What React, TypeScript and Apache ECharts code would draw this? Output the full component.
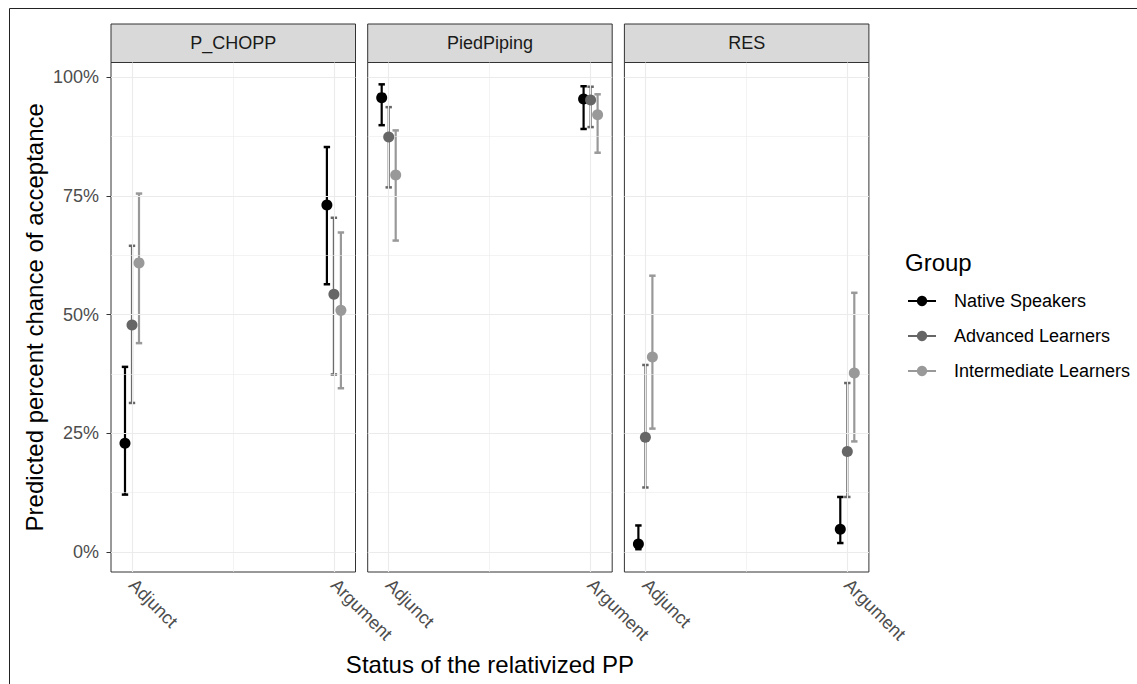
import React, { useEffect, useRef } from 'react';
import * as echarts from 'echarts';

const panels = ['P_CHOPP', 'PiedPiping', 'RES'];
const statuses = ['Adjunct', 'Argument'];
const groups = ['Native Speakers', 'Advanced Learners', 'Intermediate Learners'];
const yTicks = [0, 25, 50, 75, 100];

// Order of values: P_CHOPP Adjunct, P_CHOPP Argument, PiedPiping Adjunct, PiedPiping Argument, RES Adjunct, RES Argument
const nativeEstimate = [22.9, 73.1, 95.7, 95.4, 1.7, 4.8];
const nativeLower = [12.1, 56.4, 89.9, 89.1, 0.6, 1.9];
const nativeUpper = [39.0, 85.3, 98.5, 98.1, 5.6, 11.6];

const advancedEstimate = [47.8, 54.3, 87.4, 95.2, 24.2, 21.2];
const advancedLower = [31.4, 37.4, 76.8, 89.5, 13.6, 11.6];
const advancedUpper = [64.5, 70.4, 93.7, 98.0, 39.4, 35.6];

const intermediateEstimate = [60.9, 50.9, 79.4, 92.1, 41.1, 37.7];
const intermediateLower = [44.0, 34.5, 65.6, 84.1, 26.0, 23.3];
const intermediateUpper = [75.5, 67.3, 88.8, 96.4, 58.2, 54.6];

const estimates = [nativeEstimate, advancedEstimate, intermediateEstimate];
const lowers = [nativeLower, advancedLower, intermediateLower];
const uppers = [nativeUpper, advancedUpper, intermediateUpper];

// styling / layout
const groupColors = ['#000000', '#666666', '#999999'];
const dodge = [-0.0347, 0, 0.0347];
const FONT = '"Liberation Sans", Arial, Helvetica, sans-serif';
const gridLefts = [111, 367.7, 624.4];
const gridWidth = 244.5;
const gridTop = 62.5;
const gridHeight = 509.5;

export default function App() {
  const ref = useRef<HTMLDivElement>(null);

  useEffect(() => {
    if (!ref.current) return;
    const chart = echarts.init(ref.current, undefined, { renderer: 'svg' });

    const grids = panels.map((_, p) => ({
      left: gridLefts[p],
      top: gridTop,
      width: gridWidth,
      height: gridHeight,
      show: true,
      backgroundColor: '#ffffff',
      borderColor: '#333333',
      borderWidth: 1,
    }));

    const xAxes = panels.map((_, p) => ({
      type: 'value',
      gridIndex: p,
      min: 0.896,
      max: 2.107,
      axisLine: { show: false },
      splitLine: { show: false },
      axisTick: {
        show: true,
        customValues: [1, 2],
        length: 4.5,
        lineStyle: { color: '#333333', width: 1 },
      },
      axisLabel: {
        customValues: [1, 2],
        formatter: (v: number) => statuses[Math.round(v) - 1] ?? '',
        rotate: -45,
        margin: 10,
        color: '#4d4d4d',
        fontSize: 18,
        fontFamily: FONT,
      },
      name: p === 1 ? 'Status of the relativized PP' : '',
      nameLocation: 'middle',
      nameGap: 80,
      nameTextStyle: { color: '#000000', fontSize: 24, fontFamily: FONT },
    }));

    const yAxes = panels.map((_, p) => ({
      type: 'value',
      gridIndex: p,
      min: -4.2,
      max: 103.1,
      axisLine: { show: false },
      splitLine: { show: false },
      axisTick: {
        show: p === 0,
        customValues: yTicks,
        length: 4.5,
        lineStyle: { color: '#333333', width: 1 },
      },
      axisLabel: {
        show: p === 0,
        customValues: yTicks,
        formatter: (v: number) => `${v}%`,
        margin: 12,
        color: '#4d4d4d',
        fontSize: 18,
        fontFamily: FONT,
      },
      name: p === 0 ? 'Predicted percent chance of acceptance' : '',
      nameLocation: 'middle',
      nameGap: 65,
      nameTextStyle: { color: '#000000', fontSize: 24, fontFamily: FONT },
    }));

    const majorY = yTicks;
    const minorY = [12.5, 37.5, 62.5, 87.5];
    const gridLineSeries = panels.map((_, p) => ({
      type: 'line',
      name: 'grid' + p,
      xAxisIndex: p,
      yAxisIndex: p,
      data: [],
      silent: true,
      z: 1,
      markLine: {
        silent: true,
        symbol: ['none', 'none'],
        label: { show: false },
        emphasis: { disabled: true },
        animation: false,
        data: [
          ...majorY.map((v) => ({ yAxis: v, lineStyle: { color: '#ebebeb', width: 1.1, type: 'solid' } })),
          ...minorY.map((v) => ({ yAxis: v, lineStyle: { color: '#ebebeb', width: 0.6, type: 'solid' } })),
          { xAxis: 1, lineStyle: { color: '#ebebeb', width: 1.1, type: 'solid' } },
          { xAxis: 2, lineStyle: { color: '#ebebeb', width: 1.1, type: 'solid' } },
          { xAxis: 1.5, lineStyle: { color: '#ebebeb', width: 0.6, type: 'solid' } },
        ],
      },
    }));

    const pointSeries: any[] = [];
    const barSeries: any[] = [];
    panels.forEach((_, p) => {
      groups.forEach((g, gi) => {
        const pts = statuses.map((_, si) => [si + 1 + dodge[gi], estimates[gi][p * 2 + si]]);
        pointSeries.push({
          type: 'line',
          name: g,
          xAxisIndex: p,
          yAxisIndex: p,
          data: pts,
          symbol: 'circle',
          symbolSize: 11,
          showSymbol: true,
          itemStyle: { color: groupColors[gi] },
          lineStyle: { color: groupColors[gi], width: 2, opacity: 0 },
          emphasis: { disabled: true },
          z: 5,
        });
        const bars = statuses.map((_, si) => [
          si + 1 + dodge[gi],
          lowers[gi][p * 2 + si],
          uppers[gi][p * 2 + si],
        ]);
        const color = groupColors[gi];
        barSeries.push({
          type: 'custom',
          name: g,
          xAxisIndex: p,
          yAxisIndex: p,
          data: bars,
          encode: { x: 0, y: [1, 2] },
          z: 4,
          silent: true,
          renderItem: (_params: any, api: any) => {
            const x = api.value(0);
            const lo = api.value(1);
            const hi = api.value(2);
            const top = api.coord([x, hi]);
            const bot = api.coord([x, lo]);
            const hw = 3.2;
            return {
              type: 'group',
              children: [
                {
                  type: 'line',
                  shape: { x1: top[0], y1: top[1], x2: bot[0], y2: bot[1] },
                  style: { stroke: color, lineWidth: 2.2 },
                },
                {
                  type: 'line',
                  shape: { x1: top[0] - hw, y1: top[1], x2: top[0] + hw, y2: top[1] },
                  style: { stroke: color, lineWidth: 2.5 },
                },
                {
                  type: 'line',
                  shape: { x1: bot[0] - hw, y1: bot[1], x2: bot[0] + hw, y2: bot[1] },
                  style: { stroke: color, lineWidth: 2.5 },
                },
              ],
            };
          },
        });
      });
    });

    const stripGraphics = panels.map((name, p) => ({
      type: 'group',
      children: [
        {
          type: 'rect',
          shape: { x: gridLefts[p], y: 24, width: gridWidth, height: gridTop - 24 },
          style: { fill: '#d9d9d9', stroke: '#333333', lineWidth: 1 },
        },
        {
          type: 'text',
          x: gridLefts[p] + gridWidth / 2,
          y: (24 + gridTop) / 2,
          style: {
            text: name,
            fill: '#1a1a1a',
            fontSize: 18,
            fontFamily: FONT,
            textAlign: 'center',
            textVerticalAlign: 'middle',
          },
        },
      ],
    }));

    chart.setOption({
      animation: false,
      backgroundColor: '#ffffff',
      grid: grids,
      xAxis: xAxes,
      yAxis: yAxes,
      legend: {
        data: groups,
        orient: 'vertical',
        left: 902,
        top: 287,
        itemWidth: 28,
        itemHeight: 13,
        itemGap: 17,
        selectedMode: false,
        textStyle: {
          fontSize: 18,
          color: '#000000',
          fontFamily: FONT,
          padding: [0, 0, 0, 13],
          lineHeight: 18,
        },
        lineStyle: { width: 2, opacity: 1 },
      },
      graphic: [
        {
          type: 'polyline',
          shape: { points: [[9.5, 700], [9.5, 8.5], [1150, 8.5]] },
          style: { stroke: '#222222', lineWidth: 1, fill: 'none' },
          silent: true,
        },
        ...stripGraphics,
        {
          type: 'text',
          x: 905,
          y: 262,
          style: {
            text: 'Group',
            fill: '#000000',
            fontSize: 24,
            fontFamily: FONT,
            textAlign: 'left',
            textVerticalAlign: 'middle',
          },
        },
      ],
      series: [...gridLineSeries, ...pointSeries, ...barSeries],
    });

    return () => {
      chart.dispose();
    };
  }, []);

  return (
    <div
      ref={ref}
      style={{ position: 'fixed', left: 0, top: 0, width: 1137, height: 684, background: '#fff' }}
    />
  );
}
